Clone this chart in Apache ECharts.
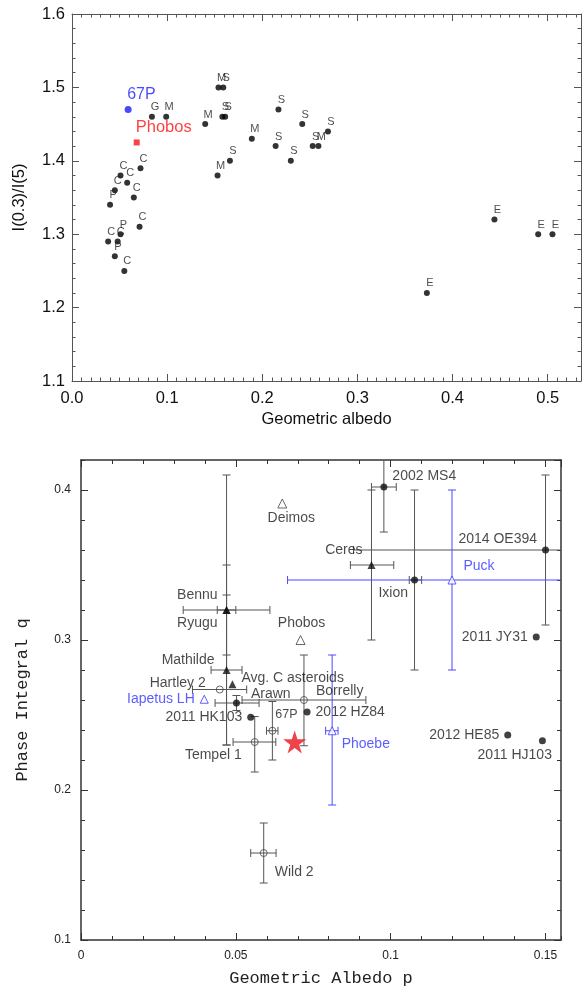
<!DOCTYPE html>
<html>
<head>
<meta charset="utf-8">
<script src="https://cdn.jsdelivr.net/npm/echarts@6/dist/echarts.min.js"></script>
<style>
  html, body { margin: 0; padding: 0; background: #fff; }
  #chart { width: 587px; height: 987px; }
</style>
</head>
<body>
<div id="chart"></div>
<script>
// ---------- top panel: I(0.3)/I(5) against geometric albedo ----------
const topClass  = ['C', 'C', 'C', 'C', 'P', 'C', 'C', 'C', 'P', 'C', 'P', 'C',
                   'G', 'M', 'M', 'M', 'S', 'S', 'S', 'M', 'S', 'M', 'S', 'S',
                   'S', 'S', 'S', 'M', 'S', 'E', 'E', 'E', 'E'];
const topAlbedo = [0.072, 0.051, 0.058, 0.045, 0.040, 0.065, 0.071, 0.038, 0.051, 0.048, 0.045, 0.055,
                   0.084, 0.099, 0.140, 0.154, 0.159, 0.158, 0.161, 0.153, 0.166, 0.189, 0.217, 0.214,
                   0.242, 0.230, 0.253, 0.259, 0.269, 0.373, 0.444, 0.490, 0.505];
const topRatio  = [1.39, 1.38, 1.37, 1.36, 1.34, 1.35, 1.31, 1.29, 1.30, 1.29, 1.27, 1.25,
                   1.46, 1.46, 1.45, 1.50, 1.50, 1.46, 1.46, 1.38, 1.40, 1.43, 1.47, 1.42,
                   1.45, 1.40, 1.42, 1.42, 1.44, 1.22, 1.32, 1.30, 1.30];
const comet67P  = [0.059, 1.47];
const phobosTop = [0.068, 1.425];

const topXRange = [0, 0.535];
const topYRange = [1.1, 1.6];

// ---------- bottom panel: phase integral q against geometric albedo p ----------
const objNames  = ['2002 MS4', 'Deimos', '2014 OE394', 'Ceres', 'Ixion', 'Puck', 'Bennu', 'Ryugu',
                   'Phobos', '2011 JY31', 'Mathilde', 'Avg. C asteroids', 'Hartley 2', 'Iapetus LH',
                   'Arawn', 'Borrelly', '2012 HZ84', '2011 HK103', '67P', 'Phoebe', 'Tempel 1',
                   '2012 HE85', '2011 HJ103', 'Wild 2'];
const objKind   = ['dot', 'openTri', 'dot', 'tri', 'dot', 'blueTri', 'tri', 'tri',
                   'openTri', 'dot', 'tri', 'tri', 'ring', 'blueTri',
                   'dot', 'ring', 'dot', 'dot', 'ring', 'blueTri', 'ring',
                   'dot', 'dot', 'ring'];
const objAlbedo = [0.0978, 0.065, 0.150, 0.0938, 0.1077, 0.1198, 0.047, 0.047,
                   0.0709, 0.147, 0.047, 0.0489, 0.0448, 0.0398,
                   0.0502, 0.072, 0.073, 0.0548, 0.0618, 0.0811, 0.0561,
                   0.1378, 0.149, 0.059];
const objQ      = [0.402, 0.391, 0.360, 0.350, 0.340, 0.340, 0.320, 0.320,
                   0.300, 0.302, 0.280, 0.2705, 0.267, 0.2605,
                   0.258, 0.260, 0.252, 0.2485, 0.2395, 0.2395, 0.232,
                   0.2367, 0.2329, 0.158];
// error bar ends (null = none)
const albLow    = [0.0938, null, 0.088, 0.087, 0.106, 0.0667, 0.044, 0.033,
                   null, null, 0.042, null, 0.036, null,
                   0.0433, 0.052, null, null, 0.0599, 0.079, 0.0491,
                   null, null, 0.0548];
const albHigh   = [0.1018, null, 0.20, 0.101, 0.110, 0.20, 0.050, 0.061,
                   null, null, 0.052, null, 0.0535, null,
                   0.0575, 0.092, null, null, 0.0636, 0.083, 0.0629,
                   null, null, 0.063];
const qLow      = [0.372, null, 0.31, 0.30, 0.28, 0.28, 0.23, 0.29,
                   null, null, 0.23, null, null, null,
                   0.253, 0.2295, null, null, 0.22, 0.19, 0.212,
                   null, null, 0.138];
const qHigh     = [0.432, null, 0.41, 0.40, 0.40, 0.40, 0.41, 0.35,
                   null, null, 0.33, null, null, null,
                   0.263, 0.29, null, null, 0.259, 0.29, 0.249,
                   null, null, 0.178];
const starPoint = [0.069, 0.232];
const blueObjects = ['Puck', 'Iapetus LH', 'Phoebe'];

const botXRange = [0, 0.155];
const botYRange = [0.1, 0.42];

// label placement for the bottom panel: [position, dx, dy]
const labelPlace = [
  ['right', 0, -11], ['bottom', 9, -2], ['left', 0, -11], ['left', 0, -15], ['left', 2, 13],
  ['right', 2, -14], ['left', 0, -15], ['left', 0, 13], ['top', 1, 0], ['left', 0, 0],
  ['left', -3, -10], ['right', 0, -6], ['left', -5, -6], ['left', 0, 0], ['right', 6, -9],
  ['right', 3, -9], ['right', 0, 0], ['left', 0, 0], ['top', 14, -1], ['right', 0, 13],
  ['left', -4, 13], ['left', 0, 0], ['left', 18, 14], ['right', 2, 19]
];

const FONT = 'Liberation Sans, Arial, sans-serif';

function axisSet(grid, pos, range, major, minor, o) {
  const base = {
    type: 'value', gridIndex: grid, position: pos, min: range[0], max: range[1],
    splitLine: { show: false }, scale: true
  };
  const tickStyle = { color: o.color, width: 1 };
  const main = Object.assign({}, base, {
    interval: major,
    axisLine: { show: true, onZero: false, lineStyle: { color: o.color, width: o.width } },
    axisTick: { show: true, inside: true, length: o.majorLen, lineStyle: tickStyle },
    axisLabel: o.label ? Object.assign({
      show: true, showMaxLabel: false, fontFamily: FONT, color: '#111'
    }, o.label) : { show: false }
  }, o.name || {});
  const sub = Object.assign({}, base, {
    interval: minor,
    axisLine: { show: false, onZero: false },
    axisTick: { show: true, inside: true, length: o.minorLen, lineStyle: tickStyle },
    axisLabel: { show: false }
  });
  return [main, sub];
}

const topStyle = { color: '#555', width: 1, majorLen: 7, minorLen: 3.5 };
const botStyle = { color: '#333', width: 1.5, majorLen: 7, minorLen: 4 };

const xAxes = [].concat(
  axisSet(0, 'bottom', topXRange, 0.1, 0.01, Object.assign({}, topStyle, {
    label: { fontSize: 16.5, margin: 9, formatter: v => v.toFixed(1) },
    name: { name: 'Geometric albedo', nameLocation: 'middle', nameGap: 30,
            nameTextStyle: { fontFamily: FONT, fontSize: 16.5, color: '#111' } }
  })),
  axisSet(0, 'top', topXRange, 0.1, 0.01, topStyle),
  axisSet(1, 'bottom', botXRange, 0.05, 0.01, Object.assign({}, botStyle, {
    label: { fontSize: 12, margin: 10, color: '#222', formatter: v => String(+v.toFixed(3)) },
    name: { name: 'Geometric Albedo p', nameLocation: 'middle', nameGap: 30,
            nameTextStyle: { fontFamily: 'Liberation Mono, monospace', fontSize: 17, color: '#222' } }
  })),
  axisSet(1, 'top', botXRange, 0.05, 0.01, botStyle)
);

const yAxes = [].concat(
  axisSet(0, 'left', topYRange, 0.1, 0.02, Object.assign({}, topStyle, {
    label: { fontSize: 16.5, margin: 7, showMaxLabel: true, formatter: v => v.toFixed(1) },
    name: { name: 'I(0.3)/I(5)', nameLocation: 'middle', nameGap: 44, nameRotate: 90,
            nameTextStyle: { fontFamily: FONT, fontSize: 16.5, color: '#111' } }
  })),
  axisSet(0, 'right', topYRange, 0.1, 0.02, topStyle),
  axisSet(1, 'left', botYRange, 0.1, 0.02, Object.assign({}, botStyle, {
    label: { fontSize: 12, margin: 10, color: '#222', formatter: v => String(+v.toFixed(2)) },
    name: { name: 'Phase Integral q', nameLocation: 'middle', nameGap: 50, nameRotate: 90,
            nameTextStyle: { fontFamily: 'Liberation Mono, monospace', fontSize: 17, color: '#222' } }
  })),
  axisSet(1, 'right', botYRange, 0.1, 0.02, botStyle)
);

// bottom panel markers
const kindStyle = {
  dot:     { symbol: 'circle', size: 7, item: { color: '#111' } },
  tri:     { symbol: 'triangle', size: 8, item: { color: '#111' } },
  openTri: { symbol: 'triangle', size: 9, item: { color: '#fff', borderColor: '#444', borderWidth: 1 } },
  ring:    { symbol: 'circle', size: 7, item: { color: 'rgba(255,255,255,0)', borderColor: '#444', borderWidth: 1 } },
  blueTri: { symbol: 'triangle', size: 8, item: { color: '#fff', borderColor: '#3a3aff', borderWidth: 1 } }
};

function bottomPoints(kind) {
  const out = [];
  objNames.forEach((name, i) => {
    if (objKind[i] !== kind) return;
    const p = labelPlace[i];
    out.push({
      name: name,
      value: [objAlbedo[i], objQ[i]],
      label: {
        position: p[0], offset: [p[1], p[2]], distance: 5,
        fontSize: name === '67P' ? 12.5 : 14,
        color: blueObjects.indexOf(name) >= 0 ? '#3333ff' : '#1a1a1a'
      }
    });
  });
  return out;
}

function errorBars(isBlue) {
  const idx = [];
  objNames.forEach((name, i) => {
    if ((blueObjects.indexOf(name) >= 0) !== isBlue) return;
    if (albLow[i] == null && qLow[i] == null) return;
    idx.push(i);
  });
  const color = isBlue ? '#4b4bff' : '#555';
  return {
    type: 'custom', xAxisIndex: 4, yAxisIndex: 4, silent: true, z: 1,
    data: idx.map(i => [objAlbedo[i], objQ[i]]),
    renderItem: function (params, api) {
      const i = idx[params.dataIndex];
      const kids = [];
      const cap = 4;
      const style = { stroke: color, lineWidth: 1, fill: null };
      const seg = (a, b) => kids.push({ type: 'line', shape: { x1: a[0], y1: a[1], x2: b[0], y2: b[1] }, style: style });
      if (albLow[i] != null) {
        const lo = Math.max(albLow[i], botXRange[0]);
        const hi = Math.min(albHigh[i], botXRange[1]);
        const a = api.coord([lo, objQ[i]]), b = api.coord([hi, objQ[i]]);
        seg(a, b);
        if (lo === albLow[i]) seg([a[0], a[1] - cap], [a[0], a[1] + cap]);
        if (hi === albHigh[i]) seg([b[0], b[1] - cap], [b[0], b[1] + cap]);
      }
      if (qLow[i] != null) {
        const lo = Math.max(qLow[i], botYRange[0]);
        const hi = Math.min(qHigh[i], botYRange[1]);
        const a = api.coord([objAlbedo[i], lo]), b = api.coord([objAlbedo[i], hi]);
        seg(a, b);
        if (lo === qLow[i]) seg([a[0] - cap, a[1]], [a[0] + cap, a[1]]);
        if (hi === qHigh[i]) seg([b[0] - cap, b[1]], [b[0] + cap, b[1]]);
      }
      return { type: 'group', children: kids };
    }
  };
}

const bottomSeries = Object.keys(kindStyle).map(kind => ({
  type: 'scatter', xAxisIndex: 4, yAxisIndex: 4, z: 3,
  symbol: kindStyle[kind].symbol, symbolSize: kindStyle[kind].size,
  itemStyle: kindStyle[kind].item,
  label: { show: true, formatter: p => p.name, fontFamily: FONT },
  emphasis: { disabled: true },
  data: bottomPoints(kind)
}));

const chart = echarts.init(document.getElementById('chart'), null, { renderer: 'canvas' });
chart.setOption({
  animation: false,
  backgroundColor: '#fff',
  grid: [
    { left: 72, top: 14, width: 509, height: 367, containLabel: false, outerBoundsMode: 'none' },
    { left: 81, top: 460, width: 480, height: 480, containLabel: false, outerBoundsMode: 'none' }
  ],
  xAxis: xAxes,
  yAxis: yAxes,
  series: [
    {
      type: 'scatter', xAxisIndex: 0, yAxisIndex: 0, symbol: 'circle', symbolSize: 6,
      itemStyle: { color: '#000' },
      label: {
        show: true, position: 'top', distance: 1, offset: [3, 0],
        formatter: p => p.value[2], fontFamily: FONT, fontSize: 11, color: '#222'
      },
      emphasis: { disabled: true },
      data: topAlbedo.map((a, i) => [a, topRatio[i], topClass[i]])
    },
    {
      type: 'scatter', xAxisIndex: 0, yAxisIndex: 0, symbol: 'circle', symbolSize: 7,
      itemStyle: { color: '#1a1aff' },
      label: {
        show: true, position: 'top', align: 'left', distance: 3, offset: [-1, 0],
        formatter: '67P', fontFamily: FONT, fontSize: 16, color: '#1a1aff'
      },
      emphasis: { disabled: true },
      data: [comet67P]
    },
    {
      type: 'scatter', xAxisIndex: 0, yAxisIndex: 0, symbol: 'rect', symbolSize: 6,
      itemStyle: { color: '#ff1010' },
      label: {
        show: true, position: 'top', align: 'left', distance: 3, offset: [-1, 0],
        formatter: 'Phobos', fontFamily: FONT, fontSize: 16.5, color: '#ff1010'
      },
      emphasis: { disabled: true },
      data: [phobosTop]
    },
    errorBars(false),
    errorBars(true)
  ].concat(bottomSeries, [{
    type: 'scatter', xAxisIndex: 4, yAxisIndex: 4, z: 4,
    symbol: 'path://M50,0 L61.8,35.4 L99,35.4 L68.9,57.3 L80.4,92.7 L50,70.8 L19.6,92.7 L31.1,57.3 L1,35.4 L38.2,35.4 Z',
    symbolSize: 23,
    itemStyle: { color: '#e8141b' },
    emphasis: { disabled: true },
    data: [starPoint]
  }])
});
</script>
</body>
</html>
